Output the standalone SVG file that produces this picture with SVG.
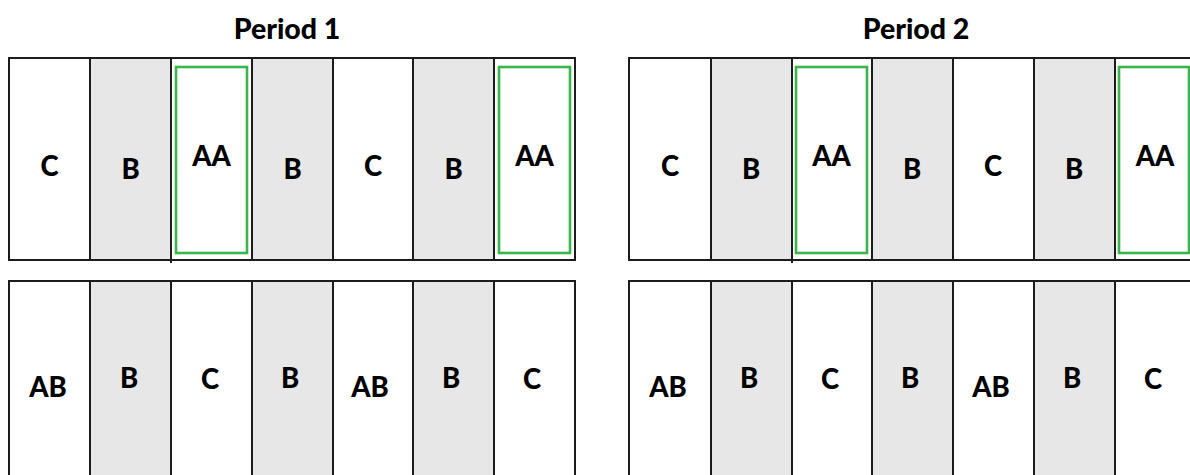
<svg xmlns="http://www.w3.org/2000/svg" width="1190" height="475" viewBox="0 0 1190 475">
<style>
.w{fill:#ffffff;stroke:none}
.g{fill:#e7e7e7;stroke:none}
.ln{stroke:#1c1c1c;stroke-width:2;fill:none}
.hl{fill:none;stroke:#3bb54a;stroke-width:2.6}
.t{font-family:Lato,"Open Sans","Liberation Sans",sans-serif;font-weight:900;font-size:27.5px;fill:#000;text-anchor:middle}
.ti{font-family:Lato,"Open Sans","Liberation Sans",sans-serif;font-weight:900;font-size:28.5px;fill:#000;text-anchor:middle}
</style>
<rect width="1190" height="475" fill="#ffffff"/>
<text class="ti" x="287" y="39">Period 1</text>
<text class="ti" x="916" y="39">Period 2</text>

<!-- Period 1 top row -->
<g id="p1-top-1"><rect class="w" x="9" y="58" width="81" height="202"/><text class="t" x="49.5" y="176">C</text></g>
<g id="p1-top-2"><rect class="g" x="90" y="58" width="81" height="202"/><text class="t" x="130.5" y="179">B</text></g>
<g id="p1-top-3"><rect class="w" x="171" y="58" width="81" height="202"/><rect class="hl" x="176" y="67" width="71" height="186"/><text class="t" x="211.5" y="166">AA</text></g>
<g id="p1-top-4"><rect class="g" x="252" y="58" width="81" height="202"/><text class="t" x="292.5" y="179">B</text></g>
<g id="p1-top-5"><rect class="w" x="333" y="58" width="80" height="202"/><text class="t" x="373" y="176">C</text></g>
<g id="p1-top-6"><rect class="g" x="413" y="58" width="81" height="202"/><text class="t" x="453.5" y="179">B</text></g>
<g id="p1-top-7"><rect class="w" x="494" y="58" width="81" height="202"/><rect class="hl" x="499" y="67" width="71" height="186"/><text class="t" x="534.5" y="166">AA</text></g>

<!-- Period 1 bottom row -->
<g id="p1-bot-1"><rect class="w" x="9" y="281" width="81" height="200"/><text class="t" x="48" y="397">AB</text></g>
<g id="p1-bot-2"><rect class="g" x="90" y="281" width="81" height="200"/><text class="t" x="129" y="388">B</text></g>
<g id="p1-bot-3"><rect class="w" x="171" y="281" width="81" height="200"/><text class="t" x="210" y="389">C</text></g>
<g id="p1-bot-4"><rect class="g" x="252" y="281" width="81" height="200"/><text class="t" x="290" y="388">B</text></g>
<g id="p1-bot-5"><rect class="w" x="333" y="281" width="80" height="200"/><text class="t" x="370" y="397">AB</text></g>
<g id="p1-bot-6"><rect class="g" x="413" y="281" width="81" height="200"/><text class="t" x="451" y="388">B</text></g>
<g id="p1-bot-7"><rect class="w" x="494" y="281" width="81" height="200"/><text class="t" x="532" y="389">C</text></g>

<!-- Period 2 top row -->
<g id="p2-top-1"><rect class="w" x="629" y="58" width="82" height="202"/><text class="t" x="670" y="176">C</text></g>
<g id="p2-top-2"><rect class="g" x="711" y="58" width="81" height="202"/><text class="t" x="751" y="179">B</text></g>
<g id="p2-top-3"><rect class="w" x="792" y="58" width="80" height="202"/><rect class="hl" x="796" y="67" width="71" height="186"/><text class="t" x="831.5" y="166">AA</text></g>
<g id="p2-top-4"><rect class="g" x="872" y="58" width="81" height="202"/><text class="t" x="912" y="179">B</text></g>
<g id="p2-top-5"><rect class="w" x="953" y="58" width="81" height="202"/><text class="t" x="993" y="176">C</text></g>
<g id="p2-top-6"><rect class="g" x="1034" y="58" width="81" height="202"/><text class="t" x="1074" y="179">B</text></g>
<g id="p2-top-7"><rect class="w" x="1115" y="58" width="85" height="202"/><rect class="hl" x="1119" y="67" width="70" height="186"/><text class="t" x="1155" y="166">AA</text></g>

<!-- Period 2 bottom row -->
<g id="p2-bot-1"><rect class="w" x="629" y="281" width="82" height="200"/><text class="t" x="668" y="397">AB</text></g>
<g id="p2-bot-2"><rect class="g" x="711" y="281" width="81" height="200"/><text class="t" x="749" y="388">B</text></g>
<g id="p2-bot-3"><rect class="w" x="792" y="281" width="80" height="200"/><text class="t" x="830" y="389">C</text></g>
<g id="p2-bot-4"><rect class="g" x="872" y="281" width="81" height="200"/><text class="t" x="910" y="388">B</text></g>
<g id="p2-bot-5"><rect class="w" x="953" y="281" width="81" height="200"/><text class="t" x="991" y="397">AB</text></g>
<g id="p2-bot-6"><rect class="g" x="1034" y="281" width="81" height="200"/><text class="t" x="1072" y="388">B</text></g>
<g id="p2-bot-7"><rect class="w" x="1115" y="281" width="85" height="200"/><text class="t" x="1153" y="389">C</text></g>

<!-- grid lines -->
<g id="grid" class="ln">
<rect x="9" y="58" width="566" height="202"/>
<path d="M90 58V260M171 58V263M252 58V260M333 58V260M413 58V260M494 58V260"/>
<path d="M9 481V281H575V481M90 281V481M171 281V481M252 281V481M333 281V481M413 281V481M494 281V481"/>
<path d="M1192 58H629V260H1192"/>
<path d="M711 58V260M792 58V263M872 58V260M953 58V260M1034 58V260M1115 58V260"/>
<path d="M629 481V281H1192M711 281V481M792 281V481M872 281V481M953 281V481M1034 281V481M1115 281V481"/>
</g>
</svg>
